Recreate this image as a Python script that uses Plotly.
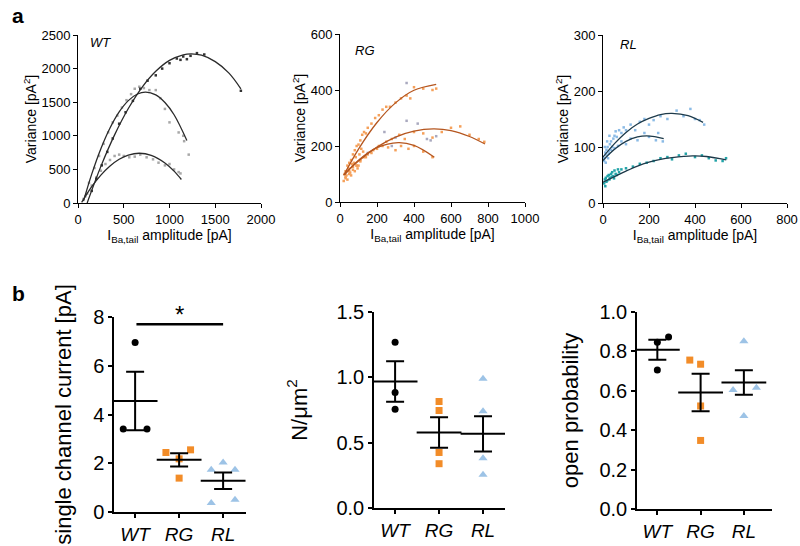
import plotly.graph_objects as go

FONT = "Liberation Sans, Arial, sans-serif"

# ---------------- Panel a : variance vs current ----------------
# WT fits
wt_fit1_x = [100, 250, 400, 550, 700, 850, 1000, 1150, 1240, 1350, 1500, 1650, 1780]
wt_fit1_y = [0, 545, 1014, 1406, 1722, 1960, 2122, 2206, 2220, 2199, 2104, 1933, 1700]
wt_fit2_x = [60, 150, 250, 350, 450, 550, 650, 740, 850, 950, 1050, 1190]
wt_fit2_y = [28, 429, 808, 1116, 1355, 1523, 1622, 1650, 1608, 1495, 1313, 930]
wt_fit3_x = [40, 150, 250, 350, 450, 550, 670, 800, 950, 1050, 1130]
wt_fit3_y = [9, 242, 415, 551, 651, 713, 740, 709, 596, 474, 350]
# WT data points
wt_pts1_x = [150, 200, 260, 320, 380, 450, 520, 600, 680, 760, 850, 920, 1000, 1080, 1120, 1150, 1190, 1230, 1300, 1380, 1780]
wt_pts1_y = [180, 360, 560, 760, 960, 1180, 1350, 1520, 1700, 1820, 1900, 2000, 2080, 2150, 2130, 2180, 2140, 2190, 2230, 2210, 1670]
wt_pts2_x = [80, 120, 180, 230, 280, 330, 380, 430, 480, 530, 580, 620, 670, 720, 780, 850, 900, 950, 1000, 1100, 1150, 1160, 1210]
wt_pts2_y = [100, 300, 520, 700, 880, 1050, 1200, 1300, 1420, 1530, 1620, 1700, 1730, 1710, 1680, 1680, 1560, 1400, 1200, 1050, 1000, 920, 720]
wt_pts3_x = [60, 100, 150, 200, 250, 300, 350, 400, 450, 500, 560, 620, 680, 750, 820, 880, 950, 1000, 1050, 1100, 1120]
wt_pts3_y = [60, 140, 260, 380, 480, 580, 640, 700, 720, 700, 680, 690, 720, 680, 650, 600, 560, 580, 500, 460, 440]

# RG fits
rg_fit1_x = [20, 100, 200, 300, 400, 520]
rg_fit1_y = [95, 189, 284, 354, 399, 420]
rg_fit2_x = [20, 100, 200, 300, 400, 505, 600, 700, 784]
rg_fit2_y = [97, 146, 196, 232, 253, 261, 255, 234, 207]
rg_fit3_x = [25, 100, 200, 315, 400, 510]
rg_fit3_y = [97, 149, 194, 212, 202, 160]
# RG data points
rg_pts_x = [30, 40, 50, 60, 70, 80, 90, 100, 110, 120, 130, 140, 150, 170, 190, 210, 230, 250, 270, 300, 330, 360, 380, 400, 450, 500, 520,
            30, 50, 70, 90, 110, 130, 150, 180, 210, 250, 280, 320, 350, 400, 450, 500, 550, 600, 650, 700, 750, 780,
            30, 50, 70, 90, 110, 140, 170, 200, 230, 260, 300, 330, 370, 400, 450, 500,
            20, 25, 35, 45, 55, 65, 75, 85, 95, 105, 115, 125, 40, 60, 80, 100]
rg_pts_y = [110, 130, 140, 150, 170, 185, 200, 205, 220, 240, 250, 245, 265, 280, 300, 310, 330, 340, 340, 355, 370, 380, 370, 410, 405, 400, 405,
            90, 110, 125, 130, 150, 160, 170, 185, 200, 215, 225, 240, 225, 250, 245, 230, 250, 265, 270, 240, 225, 215,
            85, 100, 115, 130, 145, 160, 175, 190, 200, 195, 185, 200, 190, 200, 180, 160,
            75, 100, 95, 120, 105, 135, 140, 160, 120, 170, 190, 180, 80, 95, 110, 130]
rg_grey_x = [240, 300, 360, 420, 470, 490, 520, 280, 360, 150]
rg_grey_y = [250, 230, 290, 280, 225, 220, 235, 200, 425, 175]

# RL fits
rl_fit1_x = [0, 50, 100, 150, 200, 250, 300, 370, 435]
rl_fit1_y = [82, 106, 126, 141, 151, 158, 160, 156, 144]
rl_fit2_x = [0, 50, 100, 150, 190, 230, 264]
rl_fit2_y = [76, 96, 110, 118, 120, 118, 115]
rl_fit3_x = [0, 50, 100, 150, 200, 250, 300, 390, 450, 536]
rl_fit3_y = [37, 47, 57, 66, 73, 78, 81, 84, 83, 77]
# RL data points
rl_blue_x = [5, 10, 15, 20, 25, 30, 35, 40, 45, 50, 60, 70, 80, 90, 100, 120, 140, 160, 180, 200, 220, 250, 280, 320, 350, 380, 400, 420, 440,
             5, 15, 25, 35, 50, 65, 80, 100, 120, 150, 180, 200, 230, 260, 240, 8, 18, 28, 12, 22, 55]
rl_blue_y = [80, 90, 95, 100, 92, 105, 110, 100, 115, 120, 118, 130, 125, 135, 130, 140, 130, 145, 150, 140, 148, 155, 150, 165, 155, 168, 150, 148, 140,
             75, 85, 88, 95, 98, 102, 110, 105, 115, 112, 125, 118, 112, 110, 125, 100, 110, 120, 72, 80, 128]
rl_teal_x = [5, 8, 12, 15, 20, 25, 30, 35, 40, 45, 50, 55, 60, 70, 80, 100, 130, 160, 190, 220, 250, 280, 300, 330, 360, 400, 430, 460, 490, 520, 535,
             10, 18, 28, 38, 48, 65]
rl_teal_y = [35, 42, 45, 38, 48, 50, 45, 52, 55, 48, 58, 52, 50, 55, 60, 62, 65, 70, 72, 75, 80, 82, 78, 85, 88, 82, 85, 80, 76, 75, 80,
             30, 40, 42, 47, 44, 60]

# ---------------- Panel b : summary statistics ----------------
groups = ["WT", "RG", "RL"]
# single channel current [pA]
i_wt = [6.95, 3.4, 3.4]
i_rg = [2.44, 2.55, 1.39, 2.18]
i_rl = [1.73, 2.03, 1.73, 0.37, 0.5]
i_mean = [4.55, 2.14, 1.28]
i_sem = [1.2, 0.27, 0.34]
# N / um^2
n_wt = [1.268, 0.884, 0.756]
n_rg = [0.815, 0.746, 0.425, 0.339]
n_rl = [0.99, 0.74, 0.38, 0.255]
n_mean = [0.968, 0.578, 0.568]
n_sem = [0.155, 0.116, 0.135]
# open probability
p_wt = [0.847, 0.873, 0.706]
p_rg = [0.756, 0.735, 0.523, 0.348]
p_rl = [0.852, 0.604, 0.616, 0.472]
p_mean = [0.808, 0.591, 0.642]
p_sem = [0.051, 0.095, 0.062]

# horizontal jitter of individual points (layout only)
i_wt_dx = [0, -0.27, 0.27]
i_rg_dx = [-0.3, 0.26, 0, 0]
i_rl_dx = [-0.27, 0, 0.27, -0.27, 0.27]
n_wt_dx = [0, 0, 0]
n_rg_dx = [0, 0, 0, 0]
n_rl_dx = [0, 0, 0, 0]
p_wt_dx = [0, 0.26, 0]
p_rg_dx = [-0.25, 0, 0, 0]
p_rl_dx = [0, -0.25, 0.29, 0]

fig = go.Figure()

def line(x, y, color, ax):
    fig.add_trace(go.Scatter(x=x, y=y, mode="lines", line=dict(color=color, width=1.3, shape="spline"),
                             xaxis="x" + ax, yaxis="y" + ax, showlegend=False, hoverinfo="skip"))

def dots(x, y, color, ax, size=2.5):
    fig.add_trace(go.Scatter(x=x, y=y, mode="markers", marker=dict(color=color, size=size, symbol="square"),
                             xaxis="x" + ax, yaxis="y" + ax, showlegend=False, hoverinfo="skip"))

# WT
dots(wt_pts2_x, wt_pts2_y, "#a8a8a8", "1")
dots(wt_pts3_x, wt_pts3_y, "#a8a8a8", "1")
dots(wt_pts1_x, wt_pts1_y, "#333333", "1")
line(wt_fit1_x, wt_fit1_y, "#2a2a2a", "1")
line(wt_fit2_x, wt_fit2_y, "#2a2a2a", "1")
line(wt_fit3_x, wt_fit3_y, "#2a2a2a", "1")
# RG
dots(rg_pts_x, rg_pts_y, "#f5a05a", "2")
dots(rg_grey_x, rg_grey_y, "#a9a9bf", "2")
line(rg_fit1_x, rg_fit1_y, "#b5561f", "2")
line(rg_fit2_x, rg_fit2_y, "#b5561f", "2")
line(rg_fit3_x, rg_fit3_y, "#b5561f", "2")
# RL
dots(rl_blue_x, rl_blue_y, "#8bbbe6", "3")
dots(rl_teal_x, rl_teal_y, "#22a3a8", "3")
line(rl_fit1_x, rl_fit1_y, "#1d3a4a", "3")
line(rl_fit2_x, rl_fit2_y, "#1d3a4a", "3")
line(rl_fit3_x, rl_fit3_y, "#1d3a4a", "3")

# Panel b
COLS = {"WT": "#000000", "RG": "#f28c28", "RL": "#9dc3e6"}
SYMS = {"WT": "circle", "RG": "square", "RL": "triangle-up"}

def group_pts(vals, dx, gi, ax):
    g = groups[gi]
    fig.add_trace(go.Scatter(x=[gi + d for d in dx], y=vals, mode="markers",
                             marker=dict(color=COLS[g], size=7 if g != "RL" else 8, symbol=SYMS[g]),
                             xaxis="x" + ax, yaxis="y" + ax, showlegend=False, hoverinfo="skip"))

def mean_sem(means, sems, ax):
    fig.add_trace(go.Scatter(x=[0, 1, 2], y=means, mode="markers",
                             marker=dict(symbol="line-ew", size=32, color="black", line=dict(width=2, color="black")),
                             error_y=dict(type="data", array=sems, width=9, thickness=2, color="black"),
                             xaxis="x" + ax, yaxis="y" + ax, showlegend=False, hoverinfo="skip"))

group_pts(i_wt, i_wt_dx, 0, "4"); group_pts(i_rg, i_rg_dx, 1, "4"); group_pts(i_rl, i_rl_dx, 2, "4")
mean_sem(i_mean, i_sem, "4")
group_pts(n_wt, n_wt_dx, 0, "5"); group_pts(n_rg, n_rg_dx, 1, "5"); group_pts(n_rl, n_rl_dx, 2, "5")
mean_sem(n_mean, n_sem, "5")
group_pts(p_wt, p_wt_dx, 0, "6"); group_pts(p_rg, p_rg_dx, 1, "6"); group_pts(p_rl, p_rl_dx, 2, "6")
mean_sem(p_mean, p_sem, "6")

def ax_style(size, lw=1):
    return dict(showline=True, linecolor="black", linewidth=lw, ticks="outside", ticklen=4, tickwidth=lw,
                tickcolor="black", showgrid=False, zeroline=False, automargin=False,
                tickfont=dict(family=FONT, size=size, color="black"))

W, H = 800, 546

def px(p):
    return p / W
def py(p):
    return 1 - p / H
def dom(p0, p1):
    return [px(p0), px(p1)]
def vdom(top, bottom):
    return [py(bottom), py(top)]

xa_title = dict(text="I<sub>Ba,tail</sub> amplitude [pA]", font=dict(family=FONT, size=14, color="black"), standoff=1)
ya_title = dict(text="Variance [pA<sup>2</sup>]", font=dict(family=FONT, size=14, color="black"), standoff=1)

layout = dict(
    template="none",
    width=W, height=H, margin=dict(l=0, r=0, t=0, b=0, autoexpand=False),
    paper_bgcolor="white", plot_bgcolor="white", showlegend=False,
    xaxis=dict(**ax_style(13), domain=dom(78, 261), range=[0, 2000], tickvals=[0, 500, 1000, 1500, 2000], title=xa_title, anchor="y"),
    yaxis=dict(**ax_style(13), domain=vdom(35, 203), range=[0, 2500], tickvals=[0, 500, 1000, 1500, 2000, 2500], title=ya_title, anchor="x"),
    xaxis2=dict(**ax_style(13), domain=dom(340, 525), range=[0, 1000], tickvals=[0, 200, 400, 600, 800, 1000], title=xa_title, anchor="y2"),
    yaxis2=dict(**ax_style(13), domain=vdom(34, 202), range=[0, 600], tickvals=[0, 200, 400, 600], title=ya_title, anchor="x2"),
    xaxis3=dict(**ax_style(13), domain=dom(603, 787), range=[0, 800], tickvals=[0, 200, 400, 600, 800], title=xa_title, anchor="y3"),
    yaxis3=dict(**ax_style(13), domain=vdom(35, 203), range=[0, 300], tickvals=[0, 100, 200, 300], title=ya_title, anchor="x3"),
)

cat_text = ["<i>%s</i>" % g for g in groups]
btf = dict(family=FONT, size=22, color="black")
layout.update(
    xaxis4=dict(**ax_style(19, 1.5), domain=dom(114, 246), range=[-0.48, 2.52], tickvals=[0, 1, 2], ticktext=cat_text, anchor="y4"),
    yaxis4=dict(**ax_style(20, 1.5), domain=vdom(317, 512), range=[0, 8], tickvals=[0, 2, 4, 6, 8], anchor="x4",
                title=dict(text="single channel current [pA]", font=btf, standoff=15)),
    xaxis5=dict(**ax_style(19, 1.5), domain=dom(374, 505), range=[-0.48, 2.5], tickvals=[0, 1, 2], ticktext=cat_text, anchor="y5"),
    yaxis5=dict(**ax_style(20, 1.5), domain=vdom(312, 508), range=[0, 1.5], tickvals=[0, 0.5, 1.0, 1.5], tickformat=".1f", anchor="x5",
                title=dict(text="N/\u03bcm<sup>2</sup>", font=btf, standoff=23)),
    xaxis6=dict(**ax_style(19, 1.5), domain=dom(637, 772), range=[-0.47, 2.65], tickvals=[0, 1, 2], ticktext=cat_text, anchor="y6"),
    yaxis6=dict(**ax_style(20, 1.5), domain=vdom(312, 509), range=[0, 1.0], tickvals=[0, 0.2, 0.4, 0.6, 0.8, 1.0], tickformat=".1f", anchor="x6",
                title=dict(text="open probability", font=btf, standoff=15)),
)
fig.update_layout(**layout)

fig.add_shape(type="line", xref="x4", yref="y4", x0=0.03, x1=2, y0=7.7, y1=7.7, line=dict(color="black", width=2.5))

ann = [
    dict(text="<b>a</b>", x=px(18), y=py(15), font=dict(family=FONT, size=21, color="black")),
    dict(text="<b>b</b>", x=px(18), y=py(293), font=dict(family=FONT, size=21, color="black")),
    dict(text="<i>WT</i>", x=px(88), y=py(43), xanchor="left", font=dict(family=FONT, size=13, color="black")),
    dict(text="<i>RG</i>", x=px(353), y=py(50), xanchor="left", font=dict(family=FONT, size=13, color="black")),
    dict(text="<i>RL</i>", x=px(618), y=py(44), xanchor="left", font=dict(family=FONT, size=13, color="black")),
]
for a in ann:
    a.setdefault("xanchor", "center")
    fig.add_annotation(xref="paper", yref="paper", yanchor="middle", showarrow=False, **a)
fig.add_annotation(xref="x4", yref="paper", x=1, y=py(314), text="*", showarrow=False, yanchor="middle",
                   font=dict(family=FONT, size=24, color="black"))

fig.write_html("out.html", config={"displayModeBar": False},
               post_script="document.body.style.margin='0';document.body.style.overflow='hidden';")
